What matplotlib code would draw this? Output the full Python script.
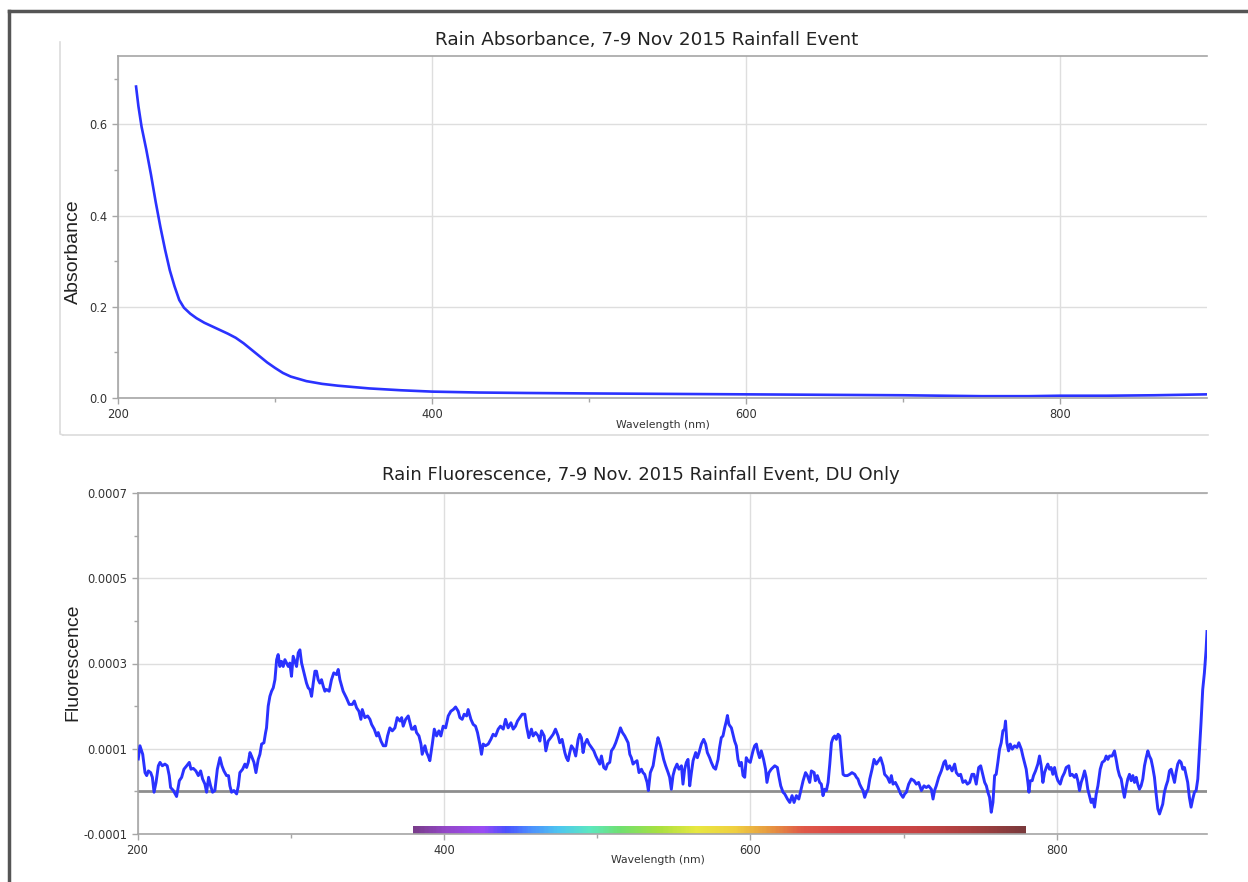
import numpy as np
import matplotlib
matplotlib.use("Agg")
import matplotlib.pyplot as plt
from matplotlib.colors import LinearSegmentedColormap
from matplotlib.lines import Line2D

# absorbance of the rain sample (nm, AU)
abs_nm = [211.5, 213, 215, 218, 221, 224, 227, 230, 233, 236, 239, 242, 246, 250,
          255, 260, 265, 270, 275, 280, 285, 290, 295, 300, 305, 310, 320, 330,
          340, 350, 360, 380, 400, 430, 460, 500, 550, 600, 650, 700, 750, 780,
          800, 830, 860, 893.5]
absorbance = [0.683, 0.64, 0.595, 0.545, 0.49, 0.43, 0.375, 0.325, 0.28, 0.245, 0.215,
              0.198, 0.185, 0.175, 0.165, 0.157, 0.149, 0.141, 0.132, 0.12, 0.106,
              0.092, 0.078, 0.066, 0.055, 0.047, 0.037, 0.031, 0.027, 0.024, 0.021,
              0.017, 0.014, 0.012, 0.011, 0.010, 0.009, 0.008, 0.007, 0.006, 0.004,
              0.004, 0.005, 0.005, 0.006, 0.008]

# fluorescence trace, DU only (nm, units of 1e-4)
fl_nm = [
    200.5, 201.6, 203.4, 204.9, 206.0, 207.1, 208.6, 209.7, 210.8, 212.1, 213.6, 214.7,
    216.2, 217.9, 219.4, 220.7, 221.6, 223.4, 225.5, 227.3, 228.8, 230.3, 232.1, 233.8,
    234.9, 236.4, 238.1, 239.7, 241.2, 242.5, 244.0, 245.1, 246.4, 247.7, 249.0, 250.5,
    252.1, 253.8, 255.1, 256.4, 258.1, 259.4, 260.3, 261.4, 262.9, 264.7, 265.8, 266.8,
    268.6, 270.1, 271.2, 272.3, 273.4, 274.4, 276.0, 277.3, 278.8, 279.9, 281.0, 282.5,
    283.6, 284.2, 285.3, 286.4, 287.5, 288.6, 289.7, 290.8, 291.8, 292.9, 294.0, 295.1,
    296.2, 297.3, 298.4, 299.4, 300.5, 301.6, 302.7, 303.8, 304.9, 306.0, 307.1, 308.1,
    309.2, 310.3, 311.4, 312.5, 313.6, 314.7, 315.8, 316.8, 317.9, 319.0, 320.1, 321.2,
    322.3, 323.4, 325.1, 326.6, 328.1, 329.9, 331.0, 332.1, 334.2, 336.4, 338.2,
    340.2, 341.5, 343.0, 344.5, 345.8, 346.7, 348.4, 350.2, 351.7, 352.8, 354.5, 356.1,
    357.1, 358.9, 360.4, 362.0, 363.2, 364.7, 366.3, 368.0, 369.5, 371.3, 372.4, 373.4,
    375.0, 376.7, 377.8, 378.9, 380.0, 381.1, 382.1, 383.7, 385.0, 385.8, 387.6, 388.7,
    389.7, 390.8, 392.4, 393.7, 395.2, 396.7, 398.0, 399.5, 401.1, 402.8, 404.5, 406.1,
    407.6, 409.3, 410.4, 411.9, 413.2, 414.8, 415.8, 417.6, 419.1, 420.6, 421.9, 423.4,
    424.5, 425.6, 427.1, 428.9, 430.6, 432.1, 433.7, 435.4, 436.9, 438.7, 440.2, 441.9,
    443.7, 445.2, 446.7, 448.0, 449.5, 451.1, 452.8, 453.9, 455.4, 457.1, 458.2, 459.8,
    461.5, 462.6, 463.7, 465.4, 466.5, 468.0, 469.7, 471.3, 472.8, 474.5, 475.6, 477.1,
    478.9, 479.9, 481.0, 482.1, 483.2, 484.7, 486.0, 487.6, 488.6, 489.7, 490.8, 491.9,
    493.4, 494.7, 496.3, 497.8, 499.1, 500.6, 501.7, 502.8, 504.3, 505.6, 506.7, 508.2,
    509.3, 510.8, 512.1, 513.6, 515.2, 516.5, 518.0, 519.1, 520.2, 521.3, 522.3, 523.4,
    524.5, 526.0, 527.3, 528.9, 529.9, 531.0, 532.6, 533.4, 534.7, 536.5, 538.2, 539.7,
    540.8, 541.9, 543.4, 544.7, 546.3, 547.3, 548.4, 549.5, 550.6, 552.1, 553.4, 555.0,
    556.0, 557.1, 558.2, 559.3, 560.4, 561.5, 562.6, 564.3, 565.4, 566.5, 568.0, 569.5,
    570.8, 571.9, 573.4, 574.5, 576.0, 577.3, 578.9, 579.9, 581.0, 582.1, 583.2, 584.3,
    585.0, 586.0, 587.6, 588.6, 589.7, 590.8, 591.9, 593.0, 594.1, 595.2, 596.3, 597.3,
    598.4, 599.9, 601.7, 602.8, 603.9, 605.0, 606.0, 607.1, 608.6, 609.9, 610.8, 612.1,
    613.6,
    615.9, 617.6, 618.5, 619.8, 621.3, 622.4, 624.2, 625.7, 627.2, 628.5, 630.0, 631.6,
    632.9, 634.4, 636.0, 637.2, 638.7, 639.8, 641.6, 642.4, 643.7, 645.2, 646.3, 647.4,
    648.5, 649.6, 650.7, 651.8, 652.9, 654.0, 655.0, 656.1, 657.2, 658.3, 659.4, 660.5,
    661.6, 663.3, 664.8, 666.3, 668.1, 669.2, 670.2, 671.3, 672.4, 673.5, 674.6, 675.7,
    676.8, 677.9, 679.4, 680.7, 682.2, 683.7, 685.0, 686.6, 687.6, 689.4, 690.9, 692.0,
    693.1, 694.6, 696.3, 698.1, 699.6, 700.7, 701.8, 703.3, 705.0, 706.8, 708.3, 709.8,
    711.6, 713.3, 714.8, 716.3, 718.1, 719.2, 720.2, 721.3, 722.9, 724.6, 726.3, 727.2,
    728.5, 730.0, 731.6, 733.3, 734.4, 735.9, 737.2, 738.7, 740.3, 741.6, 743.1, 744.6,
    745.9, 747.4, 749.0, 750.3, 751.8, 752.9, 754.0, 755.0, 756.1,
    757.2, 758.3, 759.4, 760.4, 761.5, 762.6, 763.7, 764.8, 765.9, 766.5, 767.4, 768.5,
    769.6, 770.9, 772.4, 774.0, 775.2, 776.8, 777.8, 778.9, 780.0, 781.1, 781.8, 782.6,
    783.9, 784.8, 786.1, 787.6, 788.7, 789.8, 790.9, 792.0, 793.1, 794.1, 795.2, 796.3,
    797.4, 798.5, 799.6, 800.7, 802.2, 803.5, 805.0, 806.1, 807.8, 808.7, 810.0, 811.5,
    812.6, 813.7, 814.8, 815.9, 817.0, 818.1, 819.1, 820.2, 821.3, 822.4, 823.5, 824.6,
    825.7, 826.8, 828.3, 829.6, 831.1, 832.2, 833.3, 834.4, 836.1, 837.6, 838.7, 839.8,
    840.9, 842.0, 843.1, 844.1, 845.2, 846.3, 847.4, 848.5, 849.6, 850.7, 851.8, 852.8,
    853.9, 855.0, 856.1, 857.2, 858.3, 859.4, 860.4, 861.5, 862.6, 863.7, 864.8, 865.9,
    867.0, 868.1, 869.1, 870.2, 871.3, 872.4, 873.5, 874.6, 875.7, 876.8, 877.8, 878.9,
    880.0, 881.1, 882.2, 883.3, 884.4, 885.4, 886.5, 887.6, 888.7, 889.8, 890.9, 892.0,
    893.1, 894.1, 895.2, 896.3, 897.4, 898.0,
]
fl_e4 = [
    0.76, 1.07, 0.87, 0.44, 0.37, 0.48, 0.44, 0.33, -0.02, 0.21, 0.60, 0.68,
    0.60, 0.64, 0.60, 0.37, 0.09, 0.02, -0.12, 0.25, 0.33, 0.52, 0.60, 0.68,
    0.52, 0.54, 0.48, 0.37, 0.48, 0.29, 0.17, -0.02, 0.33, 0.13, -0.02, 0.02,
    0.52, 0.79, 0.60, 0.48, 0.37, 0.37, 0.13, -0.02, 0.02, -0.06, 0.13, 0.44,
    0.52, 0.64, 0.56, 0.68, 0.91, 0.83, 0.68, 0.44, 0.75, 0.87, 1.11, 1.14,
    1.38, 1.49, 2.00, 2.23, 2.35, 2.43, 2.62, 3.09, 3.21, 2.93, 3.05, 2.93,
    3.09, 3.01, 2.93, 3.01, 2.70, 3.17, 3.05, 2.93, 3.25, 3.32, 3.01, 2.86,
    2.70, 2.54, 2.43, 2.39, 2.23, 2.54, 2.82, 2.82, 2.62, 2.54, 2.62, 2.47,
    2.35, 2.39, 2.35, 2.62, 2.78, 2.74, 2.86, 2.62, 2.35, 2.19, 2.04,
    2.04, 2.12, 1.96, 1.88, 1.69, 1.92, 1.73, 1.77, 1.69, 1.57, 1.46, 1.30,
    1.38, 1.18, 1.07, 1.07, 1.30, 1.49, 1.42, 1.49, 1.73, 1.65, 1.73, 1.53,
    1.69, 1.77, 1.61, 1.46, 1.46, 1.53, 1.38, 1.30, 1.11, 0.87, 1.07, 0.91,
    0.83, 0.72, 1.11, 1.46, 1.30, 1.42, 1.30, 1.53, 1.49, 1.77, 1.88, 1.92,
    1.98, 1.88, 1.73, 1.69, 1.81, 1.77, 1.92, 1.69, 1.57, 1.53, 1.38, 1.11,
    0.87, 1.11, 1.07, 1.11, 1.22, 1.34, 1.30, 1.46, 1.53, 1.46, 1.69, 1.49,
    1.61, 1.46, 1.53, 1.65, 1.73, 1.81, 1.81, 1.53, 1.26, 1.46, 1.30, 1.38,
    1.30, 1.18, 1.42, 1.30, 0.95, 1.18, 1.26, 1.34, 1.46, 1.30, 1.14, 1.22,
    0.91, 0.79, 0.72, 0.91, 1.07, 0.99, 0.83, 1.22, 1.34, 1.26, 0.91, 1.11,
    1.22, 1.11, 1.03, 0.95, 0.83, 0.72, 0.64, 0.83, 0.56, 0.52, 0.64, 0.68,
    0.95, 1.03, 1.14, 1.30, 1.49, 1.38, 1.30, 1.22, 1.14, 0.87, 0.79, 0.64,
    0.68, 0.72, 0.44, 0.52, 0.44, 0.40, 0.21, 0.02, 0.44, 0.60, 0.99, 1.26,
    1.14, 0.99, 0.75, 0.60, 0.44, 0.33, 0.05, 0.37, 0.52, 0.64, 0.52, 0.60,
    0.17, 0.52, 0.68, 0.75, 0.13, 0.44, 0.72, 0.91, 0.79, 0.91, 1.11, 1.22,
    1.11, 0.91, 0.79, 0.68, 0.56, 0.52, 0.75, 1.03, 1.26, 1.30, 1.49, 1.65,
    1.78, 1.57, 1.49, 1.34, 1.18, 1.07, 0.75, 0.60, 0.68, 0.37, 0.33, 0.79,
    0.72, 0.68, 0.95, 1.07, 1.11, 0.91, 0.79, 0.95, 0.75, 0.52, 0.21, 0.44,
    0.52,
    0.60, 0.56, 0.37, 0.13, -0.02, -0.06, -0.18, -0.26, -0.10, -0.26, -0.10, -0.18,
    0.02, 0.25, 0.44, 0.37, 0.21, 0.48, 0.44, 0.25, 0.37, 0.21, 0.17, -0.10,
    0.05, 0.02, 0.21, 0.64, 1.14, 1.26, 1.30, 1.22, 1.34, 1.30, 0.83, 0.40,
    0.37, 0.37, 0.40, 0.44, 0.40, 0.33, 0.29, 0.17, 0.09, 0.02, -0.14, -0.02,
    0.05, 0.29, 0.52, 0.75, 0.64, 0.72, 0.79, 0.60, 0.40, 0.33, 0.21, 0.37,
    0.17, 0.21, 0.09, -0.06, -0.14, -0.06, -0.02, 0.17, 0.29, 0.25, 0.17, 0.21,
    0.02, 0.13, 0.09, 0.13, 0.05, -0.18, 0.02, 0.13, 0.33, 0.48, 0.68, 0.72,
    0.52, 0.60, 0.48, 0.64, 0.44, 0.37, 0.40, 0.21, 0.25, 0.17, 0.21, 0.40,
    0.40, 0.17, 0.56, 0.60, 0.37, 0.21, 0.13, -0.02, -0.14,
    -0.49, -0.26, 0.37, 0.40, 0.68, 0.99, 1.14, 1.42, 1.46, 1.65, 1.14, 0.95,
    1.11, 0.99, 1.07, 1.03, 1.14, 0.99, 0.83, 0.68, 0.52, 0.21, -0.02, 0.25,
    0.25, 0.37, 0.48, 0.64, 0.83, 0.60, 0.21, 0.44, 0.56, 0.64, 0.52, 0.56,
    0.40, 0.56, 0.37, 0.25, 0.17, 0.33, 0.44, 0.56, 0.60, 0.37, 0.40, 0.33,
    0.40, 0.25, 0.02, 0.21, 0.33, 0.48, 0.33, 0.05, -0.10, -0.26, -0.18, -0.37,
    -0.06, 0.13, 0.52, 0.68, 0.72, 0.83, 0.75, 0.83, 0.83, 0.95, 0.75, 0.52,
    0.37, 0.29, 0.05, -0.14, 0.09, 0.29, 0.40, 0.25, 0.37, 0.21, 0.33, 0.17,
    0.05, 0.13, 0.29, 0.60, 0.79, 0.95, 0.83, 0.75, 0.56, 0.33, -0.06, -0.41,
    -0.53, -0.41, -0.30, -0.02, 0.13, 0.25, 0.48, 0.52, 0.37, 0.21, 0.44, 0.64,
    0.72, 0.68, 0.52, 0.56, 0.37, 0.21, -0.14, -0.37, -0.18, -0.02, 0.02, 0.29,
    0.99, 1.61, 2.39, 2.78, 3.32, 3.75,
]

# visible band drawn along the bottom of the fluorescence axis
band_nm = [380, 400, 425, 440, 455, 475, 495, 515, 540, 565, 590, 610, 635, 660, 710, 745, 780]
band_colors = ["#7a3d8c", "#9448c8", "#9b4cf5", "#4a50ff", "#4c8cff", "#4ec8f0",
               "#5ce8c0", "#70e070", "#a8e040", "#e8e840", "#f0d040", "#e8a040",
               "#e05848", "#d84848", "#c84444", "#a84040", "#7a3a3c"]

abs_ticks = [0.0, 0.2, 0.4, 0.6]
abs_minor = [0.1, 0.3, 0.5, 0.7]
fl_ticks = [-0.0001, 0.0001, 0.0003, 0.0005, 0.0007]
fl_ticklabels = ["-0.0001", "0.0001", "0.0003", "0.0005", "0.0007"]
fl_minor = [0.0, 0.0002, 0.0004, 0.0006]
wl_ticks = [200, 400, 600, 800]
wl_minor = [300, 500, 700]

W, H = 1248, 882
line_blue = "#2a32ff"
axis_gray = "#a6a6a6"
grid_gray = "#dedede"

fig = plt.figure(figsize=(W / 100, H / 100), dpi=100)


def px_axes(left, top, right, bottom):
    return fig.add_axes([left / W, 1 - bottom / H, (right - left) / W, (bottom - top) / H])


def style(ax):
    ax.spines["right"].set_visible(False)
    for s in ("left", "bottom", "top"):
        ax.spines[s].set_color(axis_gray)
        ax.spines[s].set_linewidth(1.2)
    ax.tick_params(which="both", direction="out", color=axis_gray, width=1,
                   labelsize=8.3, labelcolor="#333333")
    ax.tick_params(which="major", length=4)
    ax.tick_params(which="minor", length=3)
    ax.grid(True, which="major", color=grid_gray, lw=1)
    ax.set_axisbelow(True)


# absorbance panel
ax1 = px_axes(118, 56, 1207, 398)
ax1.plot(abs_nm, absorbance, color=line_blue, lw=1.9)
ax1.set_xlim(200, 893.6)
ax1.set_ylim(0, 0.75)
ax1.set_yticks(abs_ticks)
ax1.set_yticklabels([f"{t:.1f}" for t in abs_ticks])
ax1.set_yticks(abs_minor, minor=True)
ax1.set_xticks(wl_ticks)
ax1.set_xticks(wl_minor, minor=True)
style(ax1)

# fluorescence panel
ax2 = px_axes(137.5, 493, 1207, 834)
ax2.axhline(0, color="#8e8e8e", lw=2, zorder=1)
ax2.plot(fl_nm, np.array(fl_e4) * 1e-4, color=line_blue, lw=2.1, zorder=3)
band = LinearSegmentedColormap.from_list(
    "band", list(zip((np.array(band_nm) - 380) / 400, band_colors)))
ax2.imshow(np.linspace(0, 1, 400)[None, :], cmap=band, aspect="auto",
           extent=[380, 780, -0.0001, -0.0000835], zorder=2)
ax2.set_xlim(200, 898)
ax2.set_ylim(-0.0001, 0.0007)
ax2.set_yticks(fl_ticks)
ax2.set_yticklabels(fl_ticklabels)
ax2.set_yticks(fl_minor, minor=True)
ax2.set_xticks(wl_ticks)
ax2.set_xticks(wl_minor, minor=True)
style(ax2)

# titles and axis names
fig.text(647 / W, 1 - 40 / H, "Rain Absorbance, 7-9 Nov 2015 Rainfall Event",
         ha="center", va="center", fontsize=13.2, color="#222222")
fig.text(641 / W, 1 - 475 / H, "Rain Fluorescence, 7-9 Nov. 2015 Rainfall Event, DU Only",
         ha="center", va="center", fontsize=13.0, color="#222222")
fig.text(73 / W, 1 - 252 / H, "Absorbance", rotation=90, ha="center", va="center",
         fontsize=14, family="Liberation Sans", color="#222222")
fig.text(73 / W, 1 - 662 / H, "Fluorescence", rotation=90, ha="center", va="center",
         fontsize=14, family="Liberation Sans", color="#222222")
fig.text(663 / W, 1 - 425 / H, "Wavelength (nm)", ha="center", va="center",
         fontsize=7.8, color="#333333")
fig.text(658 / W, 1 - 860 / H, "Wavelength (nm)", ha="center", va="center",
         fontsize=7.8, color="#333333")

# window frame and panel outline
frame = dict(transform=fig.transFigure, color="#555555", lw=2.5)
fig.add_artist(Line2D([9 / W, 9 / W], [0, 1 - 11 / H], **frame))
fig.add_artist(Line2D([9 / W, 1], [1 - 11 / H, 1 - 11 / H], **frame))
panel = dict(transform=fig.transFigure, color="#dcdcdc", lw=1.2)
fig.add_artist(Line2D([60 / W, 60 / W], [1 - 42 / H, 1 - 432 / H], **panel))
fig.add_artist(Line2D([63 / W, 1208 / W], [1 - 435 / H, 1 - 435 / H], **panel))
fig.add_artist(Line2D([60 / W, 60 / W, 63 / W], [1 - 432 / H, 1 - 434 / H, 1 - 435 / H], **panel))

fig.savefig("out.png", dpi=100)
